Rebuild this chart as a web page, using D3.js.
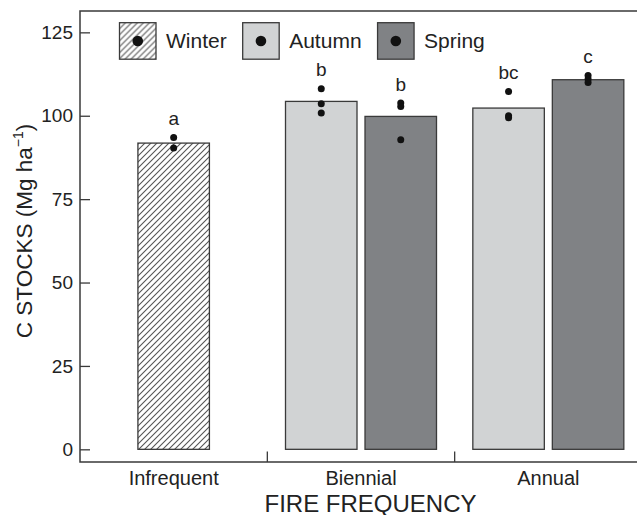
<!DOCTYPE html>
<html>
<head>
<meta charset="utf-8">
<script src="https://cdn.jsdelivr.net/npm/d3@7"></script>
<style>
  body { margin: 0; background: #fff; }
  svg { display: block; font-family: "Liberation Sans", Arial, sans-serif; }
</style>
</head>
<body>
<div id="chart"></div>
<script>
// Groups on the x axis and the season of every bar
const groups = ["Infrequent", "Biennial", "Annual"];
const seasons = ["Winter", "Autumn", "Spring"];
const barGroups = ["Infrequent", "Biennial", "Biennial", "Annual", "Annual"];
const barSeasons = ["Winter", "Autumn", "Spring", "Autumn", "Spring"];
const barMeans = [91.8, 104.3, 99.8, 102.3, 110.8];
const barLetters = ["a", "b", "b", "bc", "c"];
// individual observations per bar
const barObs = [
  [93.5, 90.3],
  [108.1, 103.6, 100.8],
  [103.8, 102.8, 92.8],
  [107.3, 100.0, 99.4],
  [112.1, 111.0, 110.0]
];
const yTicks = [0, 25, 50, 75, 100, 125];

const width = 637, height = 515;
const margin = { top: 11, left: 80, bottom: 53 };
const plotRight = 642;
const barWidth = 71.5, barStep = 79.5;

const fills = { Winter: "url(#hatch)", Autumn: "#d1d3d4", Spring: "#808285" };
const ink = "#3a3a3a";

const svg = d3.select("#chart").append("svg")
  .attr("width", width)
  .attr("height", height);

/** hatch pattern for winter */
const pat = svg.append("defs").append("pattern")
  .attr("id", "hatch")
  .attr("patternUnits", "userSpaceOnUse")
  .attr("width", 6)
  .attr("height", 6);
pat.append("rect").attr("width", 6).attr("height", 6).attr("fill", "#fff");
pat.append("path")
  .attr("d", "M-1,1 l2,-2 M0,6 l6,-6 M5,7 l2,-2")
  .attr("stroke", "#555")
  .attr("stroke-width", 1.1);

/** scales */
const x = d3.scaleBand()
  .domain(groups)
  .range([margin.left, plotRight]);

const y = d3.scaleLinear()
  .domain([-3.8, 131.4])
  .range([height - margin.bottom, margin.top]);

const bars = barMeans.map((v, i) => ({
  group: barGroups[i], season: barSeasons[i], mean: v, letter: barLetters[i], obs: barObs[i]
}));

// inner scale for each group, centred on the group
function innerScale(g) {
  const list = bars.filter(b => b.group === g).map(b => b.season);
  const c = x(g) + x.bandwidth() / 2;
  return d3.scaleBand()
    .domain(list)
    .range([c - list.length * barStep / 2, c + list.length * barStep / 2])
    .paddingInner((barStep - barWidth) / barStep)
    .paddingOuter((barStep - barWidth) / barStep / 2);
}
const inner = {};
groups.forEach(g => inner[g] = innerScale(g));
bars.forEach(b => {
  b.x0 = inner[b.group](b.season);
  b.cx = b.x0 + inner[b.group].bandwidth() / 2;
  b.w = inner[b.group].bandwidth();
});

/** bars */
svg.append("g").selectAll("rect")
  .data(bars)
  .enter()
  .append("rect")
  .attr("x", d => d.x0)
  .attr("y", d => y(d.mean))
  .attr("width", d => d.w)
  .attr("height", d => y(0) - y(d.mean))
  .attr("fill", d => fills[d.season])
  .attr("stroke", ink)
  .attr("stroke-width", 1.3);

/** observation dots */
svg.append("g").selectAll("circle")
  .data(bars.flatMap(b => b.obs.map(v => ({ cx: b.cx, v: v }))))
  .enter()
  .append("circle")
  .attr("cx", d => d.cx)
  .attr("cy", d => y(d.v))
  .attr("r", 3.5)
  .attr("fill", "#111");

/** significance letters */
svg.append("g").selectAll("text")
  .data(bars)
  .enter()
  .append("text")
  .attr("x", d => d.cx)
  .attr("y", d => y(d3.max(d.obs)) - 12.5)
  .attr("text-anchor", "middle")
  .attr("font-size", 19)
  .attr("fill", "#222")
  .text(d => d.letter);

/** axes */
const yAxis = d3.axisLeft(y)
  .tickValues(yTicks)
  .tickSizeInner(-10)
  .tickSizeOuter(0)
  .tickPadding(7);

const gy = svg.append("g")
  .attr("transform", "translate(" + margin.left + ",0)")
  .call(yAxis);
gy.select(".domain").remove();
gy.selectAll(".tick line").attr("stroke", ink).attr("stroke-width", 1.3);
gy.selectAll(".tick text").attr("font-size", 19).attr("fill", "#222").style("font-family", "inherit");

const xAxis = d3.axisBottom(x).tickSize(0).tickPadding(9);
const gx = svg.append("g")
  .attr("transform", "translate(0," + y.range()[0] + ")")
  .call(xAxis);
gx.select(".domain").remove();
gx.selectAll(".tick text").attr("font-size", 20).attr("fill", "#222").style("font-family", "inherit");

// separator ticks between groups
svg.append("g").selectAll("line")
  .data(groups.slice(1))
  .enter()
  .append("line")
  .attr("x1", d => x(d)).attr("x2", d => x(d))
  .attr("y1", y.range()[0]).attr("y2", y.range()[0] - 10.5)
  .attr("stroke", ink)
  .attr("stroke-width", 1.3);

// frame: left, bottom, top
svg.append("path")
  .attr("d", d3.line()([
    [plotRight, y.range()[1]], [margin.left, y.range()[1]],
    [margin.left, y.range()[0]], [plotRight, y.range()[0]]
  ]))
  .attr("fill", "none")
  .attr("stroke", ink)
  .attr("stroke-width", 1.5);

/** axis titles */
svg.append("text")
  .attr("x", 370.5)
  .attr("y", 511.5)
  .attr("text-anchor", "middle")
  .attr("font-size", 24)
  .attr("fill", "#222")
  .text("FIRE FREQUENCY");

const yt = svg.append("text")
  .attr("transform", "translate(32," + 231 + ") rotate(-90)")
  .attr("text-anchor", "middle")
  .attr("font-size", 22.5)
  .attr("fill", "#222");
yt.append("tspan").text("C STOCKS (Mg ha");
yt.append("tspan").attr("font-size", 14).attr("dy", -9).text("\u22121");
yt.append("tspan").attr("dy", 9).text(")");

/** legend */
const legend = svg.append("g").attr("transform", "translate(119.5,22.7)");
let lx = 0;
seasons.forEach(s => {
  const item = legend.append("g").attr("transform", "translate(" + lx + ",0)");
  item.append("rect")
    .attr("width", 36.5).attr("height", 36.5)
    .attr("fill", fills[s])
    .attr("stroke", ink)
    .attr("stroke-width", 1.3);
  item.append("circle")
    .attr("cx", 18.25).attr("cy", 18.25).attr("r", 5.3)
    .attr("fill", "#111");
  const t = item.append("text")
    .attr("x", 46.5).attr("y", 25.5)
    .attr("font-size", 21)
    .attr("fill", "#222")
    .text(s);
  lx += 46.5 + t.node().getComputedTextLength() + 16;
});
</script>
</body>
</html>
